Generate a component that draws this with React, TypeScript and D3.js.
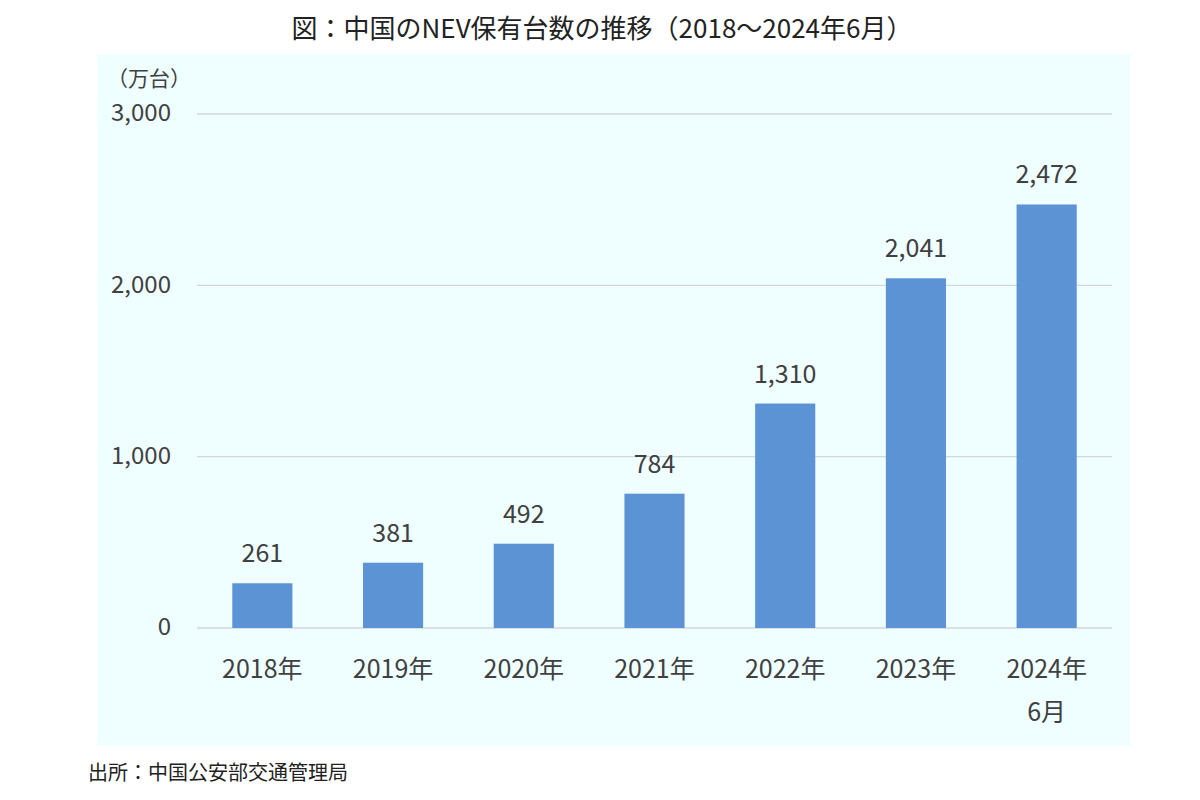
import React from "react";
import * as d3 from "d3";

// 中国のNEV保有台数（万台）
const categories = ["2018年", "2019年", "2020年", "2021年", "2022年", "2023年", "2024年\n6月"];
const values = [261, 381, 492, 784, 1310, 2041, 2472];
const yTicks = [0, 1000, 2000, 3000];

const W = 1200;
const H = 800;
const FONT = "'Noto Sans CJK JP', 'Noto Sans', sans-serif";
const TEXT = "#404040";

const App: React.FC = () => {
  const x = d3
    .scaleBand<string>()
    .domain(categories)
    .range([197, 1112])
    .paddingInner(0.54)
    .paddingOuter(0.27);

  const y = d3.scaleLinear().domain([0, 3000]).range([628, 114]);
  const fmt = d3.format(",");

  return (
    <svg
      width={W}
      height={H}
      style={{ position: "absolute", left: 0, top: 0, background: "#fff" }}
      fontFamily={FONT}
    >
      <rect x={97} y={54} width={1033} height={692} fill="#effeff" />

      <text x={602} y={38} textAnchor="middle" fontSize={26} fill="#222">
        図：中国のNEV保有台数の推移（2018～2024年6月）
      </text>

      <text x={107} y={86} fontSize={21} fill={TEXT}>
        （万台）
      </text>

      {yTicks.map((t) => (
        <g key={t}>
          <line x1={197} x2={1112} y1={y(t)} y2={y(t)} stroke="#d3d7db" strokeWidth={1.3} />
          <text x={171} y={y(t) - 1} dy="0.35em" textAnchor="end" fontSize={24} fill={TEXT}>
            {fmt(t)}
          </text>
        </g>
      ))}

      {categories.map((c, i) => {
        const bx = x(c) ?? 0;
        const cx = bx + x.bandwidth() / 2;
        const lines = c.split("\n");
        return (
          <g key={c}>
            <rect
              x={bx}
              y={y(values[i])}
              width={x.bandwidth()}
              height={y(0) - y(values[i])}
              fill="#5b93d4"
            />
            <text x={cx} y={y(values[i]) - 21} textAnchor="middle" fontSize={25} fill={TEXT}>
              {fmt(values[i])}
            </text>
            {lines.map((l, j) => (
              <text key={j} x={cx} y={678 + j * 43} textAnchor="middle" fontSize={25} fill={TEXT}>
                {l}
              </text>
            ))}
          </g>
        );
      })}

      <text x={88} y={780} fontSize={20} fill="#222">
        出所：中国公安部交通管理局
      </text>
    </svg>
  );
};

export default App;
